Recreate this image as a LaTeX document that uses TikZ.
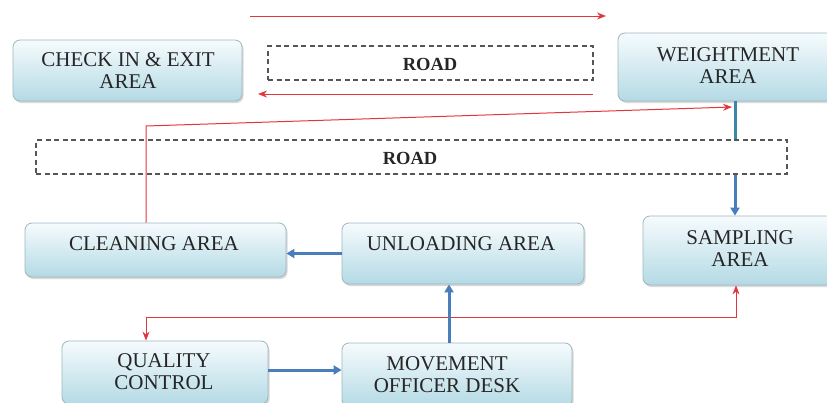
\documentclass[tikz,border=0pt]{standalone}
\usepackage{fontspec}
\setmainfont{Liberation Serif}
\usetikzlibrary{shadows,arrows.meta}
\definecolor{boxtop}{HTML}{F6FBFD}
\definecolor{boxbot}{HTML}{B4DAE5}
\definecolor{boxline}{HTML}{9DB6BF}
\definecolor{txt}{HTML}{262626}
\definecolor{redl}{HTML}{E2363C}
\definecolor{bluel}{HTML}{4A7EBB}
\definecolor{teall}{HTML}{3A87A8}
\definecolor{roadl}{HTML}{555555}
\tikzset{
  x=1pt, y=-1pt,
  areabox/.style={draw=boxline, line width=0.8pt, rounded corners=7pt,
    top color=boxtop, bottom color=boxbot, inner sep=0pt,
    drop shadow={opacity=0.3, shadow xshift=1.5pt, shadow yshift=-2pt}},
  boxtext/.style={text=txt, align=center, inner sep=0pt,
    font=\fontsize{21}{22}\selectfont},
  roadbox/.style={draw=roadl, line width=1.1pt, dash pattern=on 5pt off 3.5pt, inner sep=0pt},
  roadtext/.style={text=txt, inner sep=0pt, font=\fontsize{18.5}{19}\selectfont\bfseries},
  redarrow/.style={draw=redl, line width=1pt, -{Stealth[length=9pt,width=7pt]}},
  redboth/.style={draw=redl, line width=1pt, {Stealth[length=9pt,width=7pt]}-{Stealth[length=9pt,width=7pt]}},
  bluearrow/.style={draw=bluel, line width=3pt, -{Triangle[length=8pt,width=9pt]}},
  tealline/.style={draw=teall, line width=3pt},
}
\newcommand{\areanode}[5]{% name, x1, y1, x2, y2
  \node[areabox, minimum width={#4-#2}, minimum height={#5-#3}] (#1) at ({(#2+#4)/2},{(#3+#5)/2}) {};}
\newcommand{\roadnode}[5]{%
  \node[roadbox, minimum width={#4-#2}, minimum height={#5-#3}] (#1) at ({(#2+#4)/2},{(#3+#5)/2}) {};}
\begin{document}
\begin{tikzpicture}
\clip (0,0) rectangle (827,402);
\fill[white] (0,0) rectangle (827,402);

% boxes
\areanode{checkin}{13}{40}{242}{101}
\areanode{weight}{618}{33}{838}{101}
\areanode{cleaning}{25}{223}{286}{277}
\areanode{unloading}{342}{223}{584}{284}
\areanode{sampling}{643}{216}{837}{285}
\areanode{qc}{62}{341}{268}{404}
\areanode{mod}{342}{343}{572}{407}

\roadnode{road1}{268}{46}{593}{80}
\roadnode{road2}{36}{140}{787}{174}

% texts
\node[boxtext] (checkinL) at (128,71) {CHECK IN \& EXIT\\AREA};
\node[boxtext] (weightL) at (728,66) {WEIGHTMENT\\AREA};
\node[boxtext] (cleaningL) at (154,244) {CLEANING AREA};
\node[boxtext] (unloadingL) at (461,244) {UNLOADING AREA};
\node[boxtext] (samplingL) at (740,249) {SAMPLING\\AREA};
\node[boxtext] (qcL) at (164,372) {QUALITY\\CONTROL};
\node[boxtext] (modL) at (447,375) {MOVEMENT\\OFFICER DESK};
\node[roadtext] (road1L) at (430,64) {ROAD};
\node[roadtext] (road2L) at (410,158) {ROAD};

% coordinates
\coordinate (t1) at (250,16);
\coordinate (t2) at (606,16);
\coordinate (b1) at (593,94);
\coordinate (b2) at (258,94);
\coordinate (c1) at (146,126);
\coordinate (c2) at (732,107);
\coordinate (wx) at (735,0);
\coordinate (q1) at (146,317);
\coordinate (q2) at (736,317);
\coordinate (ux) at (449,0);

% red connectors
\draw[redarrow] (t1) -- (t2);
\draw[redarrow] (b1) -- (b2);
\draw[redarrow] (c1 |- cleaning.north) -- (c1) -- (c2);
\draw[redboth] (q1 |- qc.north) -- (q1) -- (q2) -- (q2 |- sampling.south);

% blue connectors
\draw[tealline] (wx |- weight.south) -- (wx |- road2.north);
\draw[bluearrow] (wx |- road2.south) -- (wx |- sampling.north);
\draw[bluearrow] (unloading.west) -- (cleaning.east |- unloading.west);
\draw[bluearrow] (qc.east |- 0,370) -- (mod.west |- 0,370);
\draw[bluearrow] (ux |- mod.north) -- (ux |- unloading.south);
\end{tikzpicture}
\end{document}
